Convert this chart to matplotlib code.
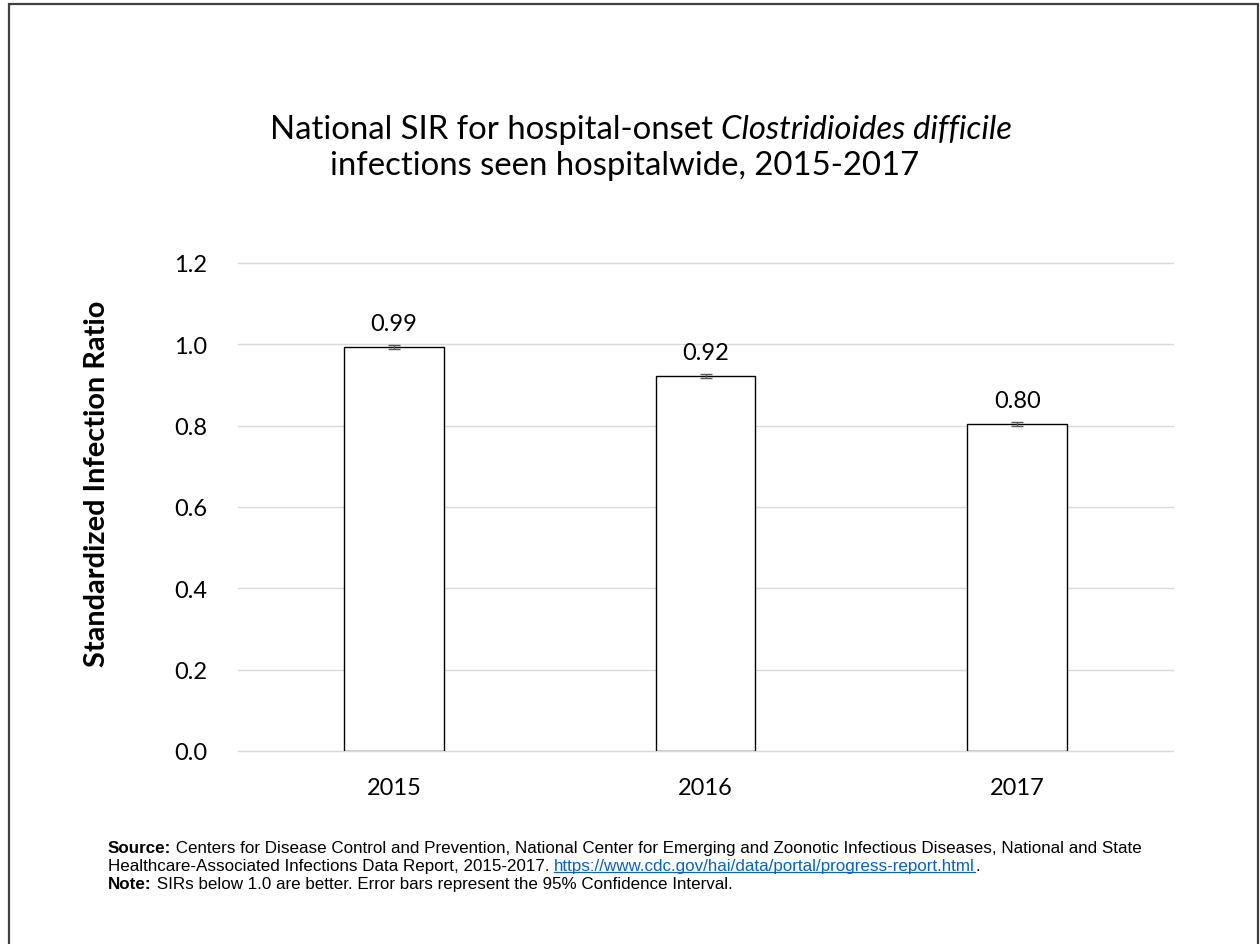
import matplotlib
matplotlib.use('Agg')
import matplotlib.pyplot as plt
from matplotlib.patches import Rectangle
from matplotlib.lines import Line2D

# data
years = ['2015', '2016', '2017']
sir = [0.993, 0.921, 0.804]
ci_low = [0.988, 0.916, 0.800]
ci_high = [0.998, 0.926, 0.808]
bar_labels = ['0.99', '0.92', '0.80']
yticks = [0.0, 0.2, 0.4, 0.6, 0.8, 1.0, 1.2]

W, H = 1260, 945
main_font = 'Lato'
note_font = 'Liberation Sans'

fig = plt.figure(figsize=(W / 100, H / 100), dpi=100)
fig.patch.set_facecolor('white')

# outer frame
fig.patches.append(Rectangle((9 / W, -0.01), 1249 / W, 1 - 5 / H + 0.01,
                             transform=fig.transFigure, fill=False,
                             edgecolor='#404040', linewidth=1.6))

ax = fig.add_axes([238 / W, 1 - 752 / H, 935 / W, 488 / H])
x = list(range(len(years)))
err_lo = [s - l for s, l in zip(sir, ci_low)]
err_hi = [h - s for s, h in zip(sir, ci_high)]
ax.bar(x, sir, width=0.32, color='white', edgecolor='black', linewidth=1.0, zorder=3)
ax.errorbar(x, sir, yerr=[err_lo, err_hi], fmt='none', ecolor='#595959',
            elinewidth=1.0, capsize=4, capthick=1.0, zorder=4)
for xi, top, lab in zip(x, ci_high, bar_labels):
    ax.annotate(lab, (xi, top), xytext=(0, 8), textcoords='offset points',
                ha='center', va='bottom', fontsize=17, family=main_font)

ax.set_xlim(-0.5, 2.5)
ax.set_ylim(0, 1.2)
ax.set_yticks(yticks)
ax.set_yticklabels([f'{t:.1f}' for t in yticks])
ax.set_xticks(x)
ax.set_xticklabels(years)
ax.tick_params(axis='both', length=0, labelsize=17)
ax.tick_params(axis='y', pad=22)
ax.tick_params(axis='x', pad=19)
for lab in ax.get_xticklabels() + ax.get_yticklabels():
    lab.set_family(main_font)
ax.grid(axis='y', color='#d9d9d9', linewidth=1.0, zorder=0)
for gl in ax.get_ygridlines():
    gl.set_clip_on(False)
ax.set_axisbelow(True)
for sp in ax.spines.values():
    sp.set_visible(False)

fig.text(97 / W, 1 - 484 / H, 'Standardized Infection Ratio', rotation=90,
         ha='center', va='center', fontsize=20.8, fontweight='bold', family=main_font)

renderer = fig.canvas.get_renderer()


def run_width(s, props):
    # measure with a bar appended so trailing spaces count
    t1 = fig.text(0, 0, s + '|', **props)
    t2 = fig.text(0, 0, '|', **props)
    w = t1.get_window_extent(renderer).width - t2.get_window_extent(renderer).width
    t1.remove()
    t2.remove()
    return w


def draw_runs(x_px, y_px, runs, align='left'):
    clean = [(s, {k: v for k, v in p.items() if k != 'underline'}, p.get('underline', False))
             for s, p in runs]
    widths = [run_width(s, p) for s, p, u in clean]
    total = sum(widths)
    cur = x_px - total / 2 if align == 'center' else x_px
    for (s, p, u), w in zip(clean, widths):
        fig.text(cur / W, 1 - y_px / H, s, ha='left', va='baseline', **p)
        if u:
            yy = 1 - (y_px + 2) / H
            fig.add_artist(Line2D([cur / W, (cur + w) / W], [yy, yy],
                                  transform=fig.transFigure,
                                  color=p.get('color', 'black'), linewidth=0.9))
        cur += w


# title
t_reg = dict(fontsize=23.7, family=main_font)
t_it = dict(fontsize=23.7, family=main_font, style='italic')
draw_runs(641, 139, [('National SIR for hospital-onset ', t_reg),
                     ('Clostridioides difficile', t_it)], align='center')
draw_runs(625, 175, [('infections seen hospitalwide, 2015-2017', t_reg)], align='center')

# footnote
fs = 12.25
n_reg = dict(fontsize=fs, family=note_font)
n_bold = dict(fontsize=fs, family=note_font, fontweight='bold')
n_link = dict(fontsize=fs, family=note_font, color='#0563C1', underline=True)
draw_runs(108, 853, [('Source:', n_bold),
                     (' Centers for Disease Control and Prevention, National Center for Emerging and '
                      'Zoonotic Infectious Diseases, National and State', n_reg)])
draw_runs(108, 871, [('Healthcare-Associated Infections Data Report, 2015-2017. ', n_reg),
                     ('https://www.cdc.gov/hai/data/portal/progress-report.html', n_link),
                     ('.', n_reg)])
draw_runs(108, 889, [('Note:', n_bold),
                     (' SIRs below 1.0 are better. Error bars represent the 95% Confidence Interval.', n_reg)])

fig.savefig('out.png', dpi=100, facecolor='white')
